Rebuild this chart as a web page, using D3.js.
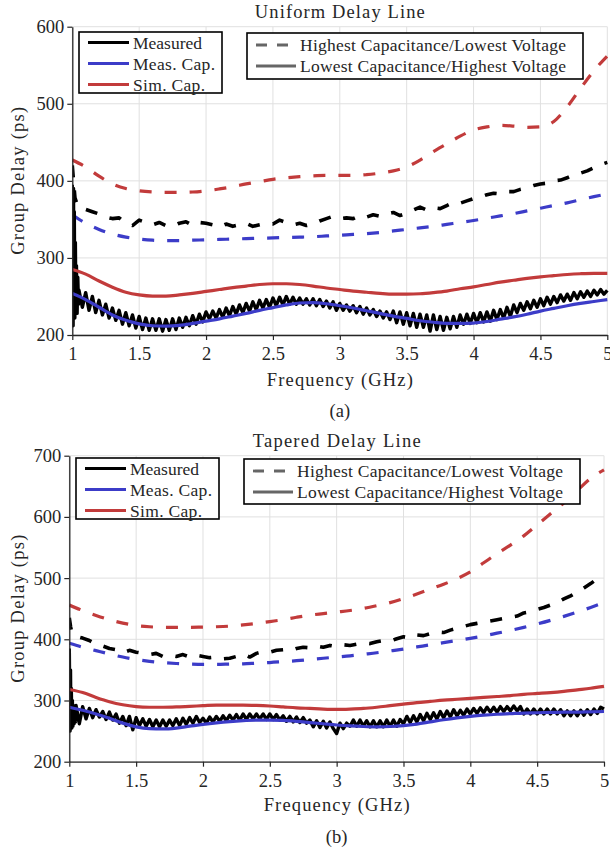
<!DOCTYPE html>
<html><head><meta charset="utf-8">
<script src="https://cdn.jsdelivr.net/npm/d3@7"></script>
<style>
body{margin:0;background:#fff}
svg text{font-family:"Liberation Serif","Times New Roman",serif;fill:#262626}
</style>
</head><body><svg id="c" width="610" height="852"></svg>
<script>
// ---------- shared ----------
const xTicks = [1, 1.5, 2, 2.5, 3, 3.5, 4, 4.5, 5];
const smoothF = [1.0,1.1,1.2,1.3,1.4,1.5,1.6,1.7,1.8,1.9,2.0,2.1,2.2,2.3,2.4,2.5,2.6,2.7,2.8,2.9,3.0,
                 3.1,3.2,3.3,3.4,3.5,3.6,3.7,3.8,3.9,4.0,4.1,4.2,4.3,4.4,4.5,4.6,4.7,4.8,4.9,5.0];
const seriesNames = ["Measured", "Meas. Cap.", "Sim. Cap."];
const styleNames = ["Highest Capacitance/Lowest Voltage", "Lowest Capacitance/Highest Voltage"];
const xLabel = "Frequency (GHz)";
const yLabel = "Group Delay (ps)";

// ---------- (a) Uniform Delay Line ----------
const aTitle = "Uniform Delay Line";
const aYTicks = [200, 300, 400, 500, 600];
const aSimHigh = [427,418,406,396,390,387,385.5,385,385,385.5,387,389.5,392.5,396,399,402,404,405.5,406.5,407,407,
                  407,408,410,413,418,427,438,448,458,466,470,472,471,469.5,470,477,496,520,543,562];
const aCapHigh = [356,345,337,331,327,324.5,323,322.5,322.5,323,323.5,324,324.5,325,325.5,326,326.5,327,327.5,328.5,329.5,
                  330.5,331.5,333,335,337,339,341,343.5,346,348.5,351.5,354.5,357.5,361,364.5,368,371.5,375.5,379.5,383];
const aSimLow = [285,279,270,262,255.5,252,250.5,250.5,252,254,256.5,259,261.5,263.5,265.5,266.5,266.5,265.5,263.5,261,259,
                 257,255.5,254,253,253,253.5,255,257,260,262.5,265.5,268.5,271,273.5,275.5,277,278.5,279.5,280,280];
const aCapLow = [254,246,236,226,219,214.5,212,211.5,212.5,215,218,221,224.5,228,232,235.5,239,241.5,242,240.5,238,
                 235,231.5,228,224.5,221.5,218.5,216.5,215,215,215.5,217.5,220.5,223.5,227,231,234.5,238,241,243.5,246];
// measured, highest capacitance: start transient then 0.05 GHz samples from 1.05
const aMeasHighStartF = [1.0, 1.01, 1.02, 1.035];
const aMeasHighStartV = [420, 398, 378, 370];
const aMeasHigh = [
  366,363,360,357,353,351,352,345,342,349,
  346,343,346,342,341,345,347,342,346,345,
  343,340,344,341,343,345,341,343,345,344,
  349,346,343,345,342,344,348,351,354,351,
  352,351,355,353,356,354,357,359,355,358,
  362,366,362,365,364,368,372,371,374,377,
  379,382,384,383,386,386,389,391,394,396,
  397,400,401,404,408,410,413,417,421,424];
// measured, lowest capacitance: start transient then 0.025 GHz samples from 1.05
const aMeasLowStartF = [1.0,1.003,1.006,1.009,1.012,1.015,1.019,1.023,1.027,1.031,1.036,1.041,1.046];
const aMeasLowStartV = [395,300,212,390,240,360,222,320,235,290,228,275,240];
const aMeasLow = [
  258,236,255,232,250,229,245,226,
  240,222,235,219,232,214,229,212,
  226,209,224,207,222,206,221,206,
  221,205,220,206,221,207,222,210,
  223,212,225,214,227,217,230,221,
  231,222,233,223,235,225,237,227,
  239,229,241,231,243,233,245,235,
  246,236,248,238,249,239,250,240,
  249,240,248,240,247,239,247,238,
  246,237,244,235,243,232,241,232,
  239,231,238,229,237,227,235,226,
  233,224,231,222,230,220,231,216,
  230,214,229,212,228,210,227,210,
  226,205,226,207,224,206,223,208,
  224,210,226,214,227,215,228,216,
  229,217,230,218,232,220,233,222,
  236,224,239,229,241,232,243,234,
  245,236,247,238,249,240,250,242,
  252,244,253,245,255,247,256,249,
  257,250,258,252,259,253,258];

// ---------- (b) Tapered Delay Line ----------
const bTitle = "Tapered Delay Line";
const bYTicks = [200, 300, 400, 500, 600, 700];
const bSimHigh = [456,447,439,432,426.5,422.5,420.5,419.5,419.5,419.5,420,420.5,421.5,423.5,426,429,432,436,439.5,442,444.5,
                  447,450.5,455,460,466.5,474,482,490,499,510,525,540,554,569,587,605,623,643,663,677];
const bCapHigh = [393.5,387,381.5,376,371,367,364,362,360.5,359.5,359,359,359.5,360,361,362,363.5,365,367,369,371,
                  373,375.5,378,381,384,387.5,391,394.5,398,401.5,405.5,410,414.5,419.5,425,431,437.5,444.5,452,460];
const bSimLow = [318,313,305,298,293,290,289,289,289.5,290.5,291.5,292.5,292.5,292.5,292,291,289.5,288,287,286,285.5,
                 286,287,289,291.5,294,296.5,298.5,300.5,302,303.5,305,306.5,308,310,311.5,313,315,317.5,320,323];
const bCapLow = [289,284,278,271,263,257,254,253.5,255,258,261,263.5,265.5,267,268,268,267.5,266,264,262,260,
                 258.5,257.5,257,257.5,259,261.5,265,268.5,271.5,274,276,277.5,278.5,279.5,280,280.5,281,281,281.5,282];
const bMeasHighStartF = [1.0, 1.01, 1.02, 1.035];
const bMeasHighStartV = [435, 420, 410, 407];
const bMeasHigh = [
  405,402,398,392,389,385,383,378,382,379,
  377,375,377,372,374,372,375,371,374,372,
  370,371,368,369,372,376,371,377,380,379,
  382,383,381,385,387,386,389,387,390,388,
  391,390,392,394,393,396,398,397,401,404,
  402,407,406,409,412,411,415,418,421,424,
  426,428,430,432,434,436,438,443,445,449,
  452,456,460,466,471,477,484,491,499,506];
const bMeasLowStartF = [1.0,1.003,1.006,1.009,1.012,1.015,1.019,1.023,1.027,1.031,1.036,1.041,1.046];
const bMeasLowStartV = [385,310,250,350,262,320,255,300,258,292,262,290,265];
const bMeasLow = [
  292,262,290,270,287,272,285,273,
  282,269,281,268,278,263,274,259,
  274,252,272,259,270,258,269,257,
  268,257,268,258,268,259,270,259,
  271,261,272,263,274,264,271,263,
  273,265,274,266,275,267,276,268,
  277,268,278,269,278,270,278,270,
  278,269,278,269,277,268,275,266,
  274,265,273,264,272,263,268,257,
  267,256,266,255,265,254,246,263,
  254,263,258,268,258,268,258,267,
  257,267,257,267,257,268,258,268,
  258,269,262,274,264,275,265,277,
  267,279,269,280,270,282,272,283,
  273,285,275,284,276,286,278,287,
  279,288,280,289,281,289,281,290,
  282,290,283,291,283,290,278,286,
  278,286,278,286,278,286,278,286,
  278,285,275,283,275,283,275,284,
  276,285,277,286,279,289,286];

// ---------- drawing ----------
const COL = {black: "#000000", blue: "#3c3cc8", red: "#c23b3b", gray: "#666666"};
const svg = d3.select("#c");

function pairs(fs, vs) { return fs.map((f, i) => [f, vs[i]]); }
function gridPairs(start, step, vs) { return vs.map((v, i) => [start + i * step, v]); }

function txt(g, x, y, s, size, len, anchor) {
  const t = g.append("text").attr("x", x).attr("y", y).attr("font-size", size)
    .attr("text-anchor", anchor || "start").text(s);
  if (len) t.attr("textLength", len).attr("lengthAdjust", "spacing");
  return t;
}

function panel(p) {
  const x = d3.scaleLinear().domain([1, 5]).range([p.left, p.right]);
  const y = d3.scaleLinear().domain(p.yDomain).range([p.bottom, p.top]);
  const g = svg.append("g");

  // grid
  g.append("g").selectAll("line").data(xTicks).join("line")
    .attr("x1", d => x(d)).attr("x2", d => x(d)).attr("y1", p.top).attr("y2", p.bottom)
    .attr("stroke", "#e0e0e0").attr("stroke-width", 1);
  g.append("g").selectAll("line").data(p.yTicks).join("line")
    .attr("x1", p.left).attr("x2", p.right).attr("y1", d => y(d)).attr("y2", d => y(d))
    .attr("stroke", "#e0e0e0").attr("stroke-width", 1);

  // lines
  const clip = "clip" + p.id;
  svg.append("clipPath").attr("id", clip).append("rect")
    .attr("x", p.left).attr("y", p.top - 2).attr("width", p.right - p.left + 2).attr("height", p.bottom - p.top + 2);
  const lg = g.append("g").attr("clip-path", `url(#${clip})`);
  const smooth = d3.line().x(d => x(d[0])).y(d => y(d[1])).curve(d3.curveMonotoneX);
  const raw = d3.line().x(d => x(d[0])).y(d => y(d[1]));
  const dash = "12 13";
  const mHigh = pairs(p.mHighF, p.mHighV).concat(gridPairs(1.05, 0.05, p.mHigh));
  const mLow = pairs(p.mLowF, p.mLowV).concat(gridPairs(1.05, 0.025, p.mLow));
  const specs = [
    {d: raw(mHigh), c: COL.black, w: 3.6, dash: dash},
    {d: smooth(pairs(smoothF, p.capHigh)), c: COL.blue, w: 3.2, dash: dash},
    {d: smooth(pairs(smoothF, p.simHigh)), c: COL.red, w: 3.2, dash: dash},
    {d: raw(mLow), c: COL.black, w: 3.4, dash: null},
    {d: smooth(pairs(smoothF, p.capLow)), c: COL.blue, w: 3.2, dash: null},
    {d: smooth(pairs(smoothF, p.simLow)), c: COL.red, w: 3.2, dash: null}
  ];
  lg.selectAll("path").data(specs).join("path")
    .attr("d", d => d.d).attr("fill", "none").attr("stroke", d => d.c)
    .attr("stroke-width", d => d.w).attr("stroke-dasharray", d => d.dash)
    .attr("stroke-linejoin", "round");

  // axes
  const xa = g.append("g").attr("transform", `translate(0,${p.bottom})`)
    .call(d3.axisBottom(x).tickValues(xTicks).tickFormat(d3.format("")).tickSize(5).tickSizeOuter(0).tickPadding(7));
  const ya = g.append("g").attr("transform", `translate(${p.left},0)`)
    .call(d3.axisLeft(y).tickValues(p.yTicks).tickFormat(d3.format("d")).tickSize(5).tickSizeOuter(0).tickPadding(3));
  [xa, ya].forEach(a => {
    a.select(".domain").attr("stroke", "#262626").attr("stroke-width", 1.3);
    a.selectAll(".tick line").attr("stroke", "#262626").attr("stroke-width", 1.2);
    a.selectAll("text").attr("font-size", 18.5).attr("fill", "#262626")
      .style("font-family", '"Liberation Serif", serif');
  });

  // labels
  const cx = (p.left + p.right) / 2;
  txt(g, cx, p.titleY, p.title, 18.5, p.titleLen, "middle");
  txt(g, cx, p.xLabelY, xLabel, 18.5, 146, "middle");
  txt(g, cx, p.capY, p.caption, 18.5, null, "middle");
  g.append("text").attr("transform", `translate(24,${(p.top + p.bottom) / 2}) rotate(-90)`)
    .attr("text-anchor", "middle").attr("font-size", 18.5)
    .attr("textLength", 148).attr("lengthAdjust", "spacing").text(yLabel);

  // legend 1
  const L1 = p.leg1;
  g.append("rect").attr("x", L1.x).attr("y", L1.y).attr("width", L1.w).attr("height", L1.h)
    .attr("fill", "#fff").attr("stroke", "#000").attr("stroke-width", 1.6);
  const cols = [COL.black, COL.blue, COL.red];
  const lens1 = [69, 82, 72];
  seriesNames.forEach((n, i) => {
    const yy = L1.y + 10.5 + i * 21;
    g.append("line").attr("x1", L1.x + 9).attr("x2", L1.x + 50).attr("y1", yy).attr("y2", yy)
      .attr("stroke", cols[i]).attr("stroke-width", 2.8);
    txt(g, L1.x + 54, yy + 6, n, 17.5, lens1[i]);
  });
  // legend 2
  const L2 = p.leg2;
  g.append("rect").attr("x", L2.x).attr("y", L2.y).attr("width", L2.w).attr("height", L2.h)
    .attr("fill", "#fff").attr("stroke", "#000").attr("stroke-width", 1.6);
  styleNames.forEach((n, i) => {
    const yy = L2.y + 12 + i * 21;
    g.append("line").attr("x1", L2.x + 9).attr("x2", L2.x + 49).attr("y1", yy).attr("y2", yy)
      .attr("stroke", COL.gray).attr("stroke-width", 2.8).attr("stroke-dasharray", i === 0 ? "11 10" : null);
    txt(g, L2.x + 53, yy + 6, n, 17.5, 266);
  });
}

panel({id: "a", left: 72.3, right: 607.3, top: 26.7, bottom: 335, yDomain: [200, 600], yTicks: aYTicks,
  title: aTitle, titleLen: 170, titleY: 18, xLabelY: 386, caption: "(a)", capY: 417,
  simHigh: aSimHigh, capHigh: aCapHigh, simLow: aSimLow, capLow: aCapLow,
  mHighF: aMeasHighStartF, mHighV: aMeasHighStartV, mHigh: aMeasHigh,
  mLowF: aMeasLowStartF, mLowV: aMeasLowStartV, mLow: aMeasLow,
  leg1: {x: 79, y: 32, w: 143, h: 61}, leg2: {x: 247, y: 33, w: 336, h: 46}});

panel({id: "b", left: 69.3, right: 604, top: 455.7, bottom: 761.7, yDomain: [200, 700], yTicks: bYTicks,
  title: bTitle, titleLen: 168, titleY: 447, xLabelY: 811, caption: "(b)", capY: 843,
  simHigh: bSimHigh, capHigh: bCapHigh, simLow: bSimLow, capLow: bCapLow,
  mHighF: bMeasHighStartF, mHighV: bMeasHighStartV, mHigh: bMeasHigh,
  mLowF: bMeasLowStartF, mLowV: bMeasLowStartV, mLow: bMeasLow,
  leg1: {x: 76, y: 458, w: 143, h: 61}, leg2: {x: 244, y: 459, w: 336, h: 45}});
</script></body></html>
